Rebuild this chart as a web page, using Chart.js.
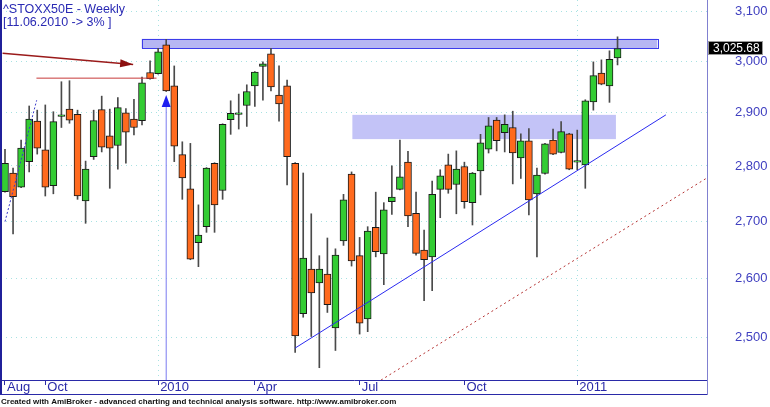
<!DOCTYPE html>
<html lang="en">

<head>
    <meta charset="UTF-8">
    <title>^STOXX50E - Weekly</title>
    <style>
        html, body { margin: 0; padding: 0; background: #fff; }
    </style>
</head>

<body>
    <canvas id="myChart" width="770" height="407"></canvas>

    <script src="https://cdn.jsdelivr.net/npm/chart.js"></script>
    <script>
        // weekly bars, one per week from end of Aug 2009 to mid Feb 2011 (x = week index)
        const opens = [2753, 2787, 2761, 2808, 2884, 2830, 2764, 2893, 2907, 2897, 2736, 2817, 2906, 2856, 2838, 2900,
            2888, 2885, 2978, 2976, 3033, 2952, 2821, 2758, 2662, 2690, 2805, 2755, 2887, 2897, 2914, 2952, 2990, 3015,
            2934, 2952, 2805, 2540, 2616, 2592, 2607, 2516, 2665, 2785, 2639, 2531, 2689, 2642, 2735, 2757, 2807, 2714,
            2649, 2637, 2757, 2802, 2766, 2799, 2733, 2791, 2831, 2886, 2862, 2872, 2815, 2847, 2749, 2786, 2848, 2825,
            2860, 2807, 2802, 2921, 2977, 2952, 3007];
        const highs = [2831, 2796, 2848, 2913, 2905, 2915, 2902, 2960, 2962, 2905, 2809, 2905, 2932, 2907, 2929, 2908,
            2926, 2969, 3001, 3026, 3044, 2991, 2845, 2842, 2729, 2797, 2806, 2879, 2923, 2936, 2954, 2980, 2999, 3026,
            2991, 2963, 2806, 2787, 2713, 2639, 2670, 2651, 2748, 2789, 2671, 2690, 2752, 2733, 2800, 2848, 2827, 2752,
            2684, 2772, 2793, 2822, 2828, 2807, 2788, 2859, 2891, 2891, 2896, 2903, 2860, 2870, 2796, 2842, 2869, 2883,
            2861, 2867, 2925, 2999, 3003, 3021, 3049];
        const lows = [2752, 2677, 2760, 2789, 2822, 2745, 2749, 2872, 2880, 2739, 2696, 2812, 2826, 2759, 2794, 2805,
            2858, 2877, 2965, 2975, 2941, 2808, 2739, 2632, 2620, 2680, 2680, 2739, 2859, 2869, 2874, 2912, 2924, 2942,
            2884, 2765, 2476, 2534, 2502, 2451, 2542, 2479, 2657, 2621, 2506, 2510, 2637, 2589, 2712, 2756, 2690, 2640,
            2562, 2579, 2706, 2750, 2713, 2723, 2693, 2747, 2824, 2828, 2826, 2767, 2777, 2711, 2637, 2785, 2821, 2824,
            2793, 2793, 2759, 2905, 2954, 2920, 2993];
        const closes = [2805, 2744, 2833, 2888, 2833, 2761, 2883, 2896, 2886, 2745, 2794, 2885, 2835, 2833, 2910, 2863,
            2872, 2958, 2966, 3019, 2942, 2837, 2778, 2633, 2675, 2796, 2729, 2878, 2899, 2900, 2941, 2979, 2995, 2950,
            2917, 2817, 2503, 2635, 2575, 2616, 2555, 2640, 2738, 2630, 2524, 2682, 2646, 2720, 2743, 2780, 2709, 2643,
            2632, 2748, 2782, 2757, 2794, 2735, 2787, 2843, 2875, 2847, 2878, 2824, 2847, 2738, 2783, 2841, 2822, 2864,
            2794, 2810, 2923, 2972, 2955, 3004, 3025.68];

        // x axis: week index of the first bar of each labelled month
        const tickWeeks = [0, 5, 19, 31, 44, 57, 71];
        const tickLabels = ['Aug', 'Oct', '2010', 'Apr', 'Jul', 'Oct', '2011'];
        const yearWeeks = [19, 71];
        const priceTicks = [2500, 2600, 2700, 2800, 2900, 3000, 3100];

        // hand drawn studies, as [week, price] pairs
        const trendLine = [[36, 2483], [82, 2896]];
        const lowerLine = [[46.65, 2431], [87.1, 2778]];
        const channelLine = [[0, 2699], [3.93, 2924]];
        const redArrow = [[-0.3, 3016], [15.9, 2994]];
        const redLevel = [[3.9, 2967], [18.8, 2967]];
        const markerLine = [[20, 2420], [20, 2911]];
        const markerTip = [20, 2934];
        const topZoneX = [16.96, 80.93];
        const topZoneY = [3026, 3045];
        const midZoneX = [43.1, 75.8];
        const midZoneY = [2850, 2896];

        const FONT = "'Liberation Sans', Arial, sans-serif";
        const lastClose = closes[closes.length - 1];
        const weeks = closes.map((c, i) => i);
        const isUp = weeks.map(i => closes[i] >= opens[i]);
        const toPoints = pts => pts.map(([x, y]) => ({ x, y }));

        function lineSet(pts, color, width, dash) {
            return {
                type: 'line',
                data: toPoints(pts),
                borderColor: color,
                borderWidth: width,
                borderDash: dash || [],
                pointRadius: 0,
                fill: false,
                order: 0
            };
        }

        function arrowHead(ctx, tip, from, len, half, color) {
            const dx = tip.x - from.x, dy = tip.y - from.y;
            const d = Math.hypot(dx, dy);
            const ux = dx / d, uy = dy / d;
            const bx = tip.x - ux * len, by = tip.y - uy * len;
            ctx.beginPath();
            ctx.moveTo(tip.x, tip.y);
            ctx.lineTo(bx - uy * half, by + ux * half);
            ctx.lineTo(bx + uy * half, by - ux * half);
            ctx.closePath();
            ctx.fillStyle = color;
            ctx.fill();
        }

        // zones, arrowheads, header, last price and frame
        const studies = {
            id: 'studies',
            beforeDatasetsDraw(chart) {
                const { ctx, scales: { x, y } } = chart;
                const zone = (xs, ys, fill, stroke) => {
                    const l = x.getPixelForValue(xs[0]), r = x.getPixelForValue(xs[1]);
                    const t = y.getPixelForValue(ys[1]), b = y.getPixelForValue(ys[0]);
                    ctx.fillStyle = fill;
                    ctx.fillRect(l, t, r - l, b - t);
                    if (stroke) {
                        ctx.strokeStyle = stroke;
                        ctx.lineWidth = 1;
                        ctx.strokeRect(Math.round(l) + 0.5, Math.round(t) + 0.5, Math.round(r - l), Math.round(b - t));
                    }
                };
                ctx.save();
                zone(midZoneX, midZoneY, '#c3c3f7');
                zone(topZoneX, topZoneY, '#b6b6f3', '#3c3cea');
                ctx.restore();
            },
            afterDatasetsDraw(chart) {
                const { ctx, scales: { x, y } } = chart;
                const px = p => ({ x: x.getPixelForValue(p[0]), y: y.getPixelForValue(p[1]) });
                ctx.save();
                arrowHead(ctx, px(redArrow[1]), px(redArrow[0]), 13, 4, '#8c1010');
                arrowHead(ctx, px(markerTip), px(markerLine[0]), 12, 4.5, '#1e1ef0');
                ctx.restore();
            },
            afterDraw(chart) {
                const { ctx, chartArea: a, scales: { x, y } } = chart;
                ctx.save();
                // header
                ctx.font = '12.5px ' + FONT;
                ctx.fillStyle = '#2a2ab4';
                ctx.textBaseline = 'alphabetic';
                ctx.textAlign = 'left';
                ctx.fillText('^STOXX50E - Weekly', 3, 13);
                ctx.fillText('[11.06.2010 -> 3% ]', 3, 26);

                // last price marker
                const py = Math.round(y.getPixelForValue(lastClose));
                ctx.fillStyle = '#000';
                ctx.fillRect(y.left + 1, py - 7, 55, 14);
                ctx.strokeStyle = '#9a9a9a';
                ctx.lineWidth = 1;
                ctx.strokeRect(y.left + 1.5, py - 6.5, 54, 13);
                ctx.fillStyle = '#fff';
                ctx.font = '12px ' + FONT;
                ctx.textBaseline = 'middle';
                ctx.fillText(lastClose.toLocaleString('en-US', { minimumFractionDigits: 2 }), y.left + 6, py + 0.5);

                // frame
                const xb = x.bottom;
                ctx.strokeStyle = '#20209a';
                ctx.lineWidth = 2;
                ctx.beginPath();
                ctx.moveTo(1, 0);
                ctx.lineTo(1, xb);
                ctx.stroke();
                ctx.lineWidth = 1;
                ctx.strokeStyle = '#2a2aa8';
                ctx.beginPath();
                ctx.moveTo(0, xb - 0.5);
                ctx.lineTo(a.right + 1, xb - 0.5);
                ctx.stroke();
                ctx.strokeStyle = '#8080d0';
                ctx.beginPath();
                ctx.moveTo(a.right + 0.5, a.bottom);
                ctx.lineTo(a.right + 0.5, xb);
                ctx.stroke();
                ctx.restore();
            }
        };

        const canvas = document.getElementById('myChart');

        new Chart(canvas, {
            type: 'bar',
            data: {
                datasets: [
                    lineSet(trendLine, '#2a2af0', 1),
                    lineSet(lowerLine, '#b43232', 1, [2, 3]),
                    lineSet(channelLine, '#3a3ac8', 1, [2, 2]),
                    lineSet(redArrow, '#9a1a1a', 1.5),
                    lineSet(redLevel, '#c83a3a', 1),
                    lineSet(markerLine, '#7a7af0', 1),
                    {
                        type: 'bar',
                        label: 'body',
                        data: weeks.map(i => ({ x: i, y: [Math.min(opens[i], closes[i]), Math.max(opens[i], closes[i])] })),
                        backgroundColor: isUp.map(u => u ? '#33cc33' : '#ff6a1e'),
                        borderColor: '#1a1a1a',
                        borderWidth: 1,
                        borderSkipped: false,
                        barThickness: 7,
                        grouped: false,
                        order: 1
                    },
                    {
                        type: 'bar',
                        label: 'wick',
                        data: weeks.map(i => ({ x: i, y: [lows[i], highs[i]] })),
                        backgroundColor: '#4a4a4a',
                        borderWidth: 0,
                        barThickness: 1,
                        grouped: false,
                        order: 2
                    }
                ]
            },
            options: {
                responsive: false,
                devicePixelRatio: 1,
                animation: false,
                events: [],
                layout: { padding: { left: 1, top: 0, right: 0, bottom: 0 } },
                scales: {
                    x: {
                        type: 'linear',
                        min: -0.496,
                        max: 87.1,
                        bounds: 'data',
                        offset: false,
                        afterBuildTicks: s => { s.ticks = tickWeeks.map(v => ({ value: v })); },
                        afterFit: s => { s.height = 15; s.paddingLeft = 0; s.paddingRight = 0; },
                        ticks: {
                            autoSkip: false,
                            maxRotation: 0,
                            align: 'start',
                            labelOffset: 2,
                            padding: -5,
                            color: '#2a2aa8',
                            font: { family: FONT, size: 13 },
                            callback: v => tickLabels[tickWeeks.indexOf(v)]
                        },
                        grid: {
                            offset: false,
                            color: c => (c.tick && yearWeeks.includes(c.tick.value)) ? '#a8e2e2' : 'rgba(0,0,0,0)',
                            tickColor: '#2a2aa8',
                            tickLength: 5,
                            tickBorderDash: []
                        },
                        border: { color: '#2a2aa8', dash: [1, 4] }
                    },
                    y: {
                        type: 'logarithmic',
                        position: 'right',
                        min: 2431.2,
                        max: 3124,
                        bounds: 'data',
                        afterBuildTicks: s => { s.ticks = priceTicks.map(v => ({ value: v })); },
                        afterFit: s => { s.width = 63; s.paddingTop = 0; s.paddingBottom = 0; },
                        ticks: {
                            padding: 28,
                            color: '#4040c0',
                            font: { family: FONT, size: 13 },
                            callback: v => v.toLocaleString('en-US')
                        },
                        grid: { color: '#a8e2e2', drawTicks: false },
                        border: { color: '#8080d0', dash: [1, 4] }
                    }
                },
                plugins: {
                    legend: { display: false },
                    tooltip: { enabled: false },
                    title: {
                        display: true,
                        position: 'bottom',
                        align: 'start',
                        text: 'Created with AmiBroker - advanced charting and technical analysis software. http://www.amibroker.com',
                        color: '#111',
                        font: { family: FONT, size: 8, weight: 'bold', lineHeight: 1.375 },
                        padding: { top: 1, bottom: 0 }
                    }
                }
            },
            plugins: [studies]
        });
    </script>
</body>

</html>
